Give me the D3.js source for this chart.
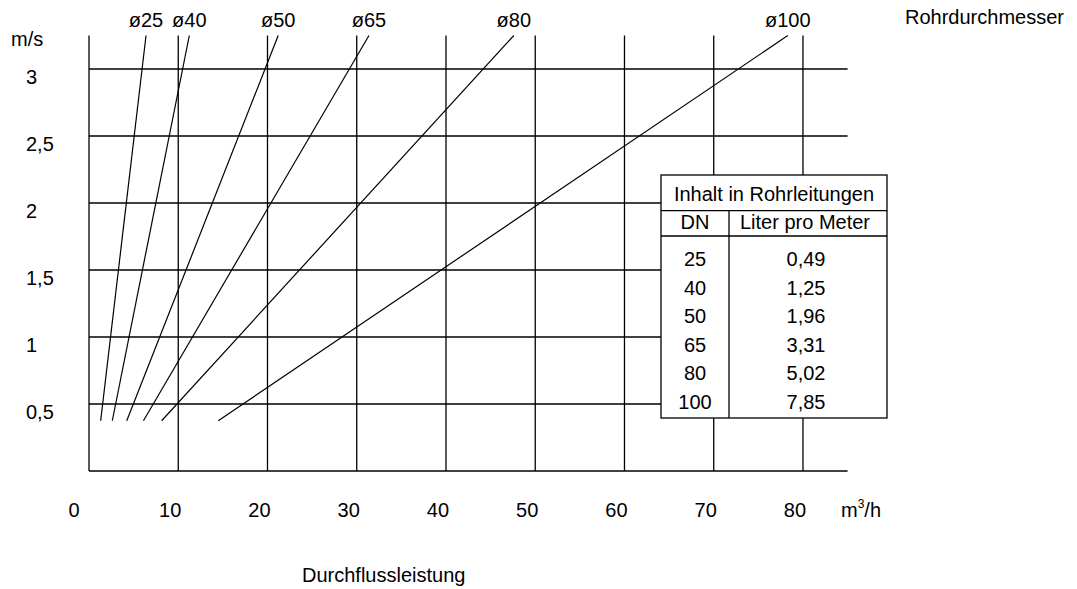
<!DOCTYPE html>
<html>
<head>
<meta charset="utf-8">
<script src="https://cdn.jsdelivr.net/npm/d3@7/dist/d3.min.js"></script>
<style>
  html, body { margin: 0; padding: 0; background: #fff; }
  svg { display: block; }
  text { font-family: "Liberation Sans", Arial, sans-serif; font-size: 20px; fill: #000; }
</style>
</head>
<body>
<svg id="chart" width="1077" height="589"></svg>
<script>
// ---- data ----
const xTicks = [0, 10, 20, 30, 40, 50, 60, 70, 80];
const yTicks = [0.5, 1, 1.5, 2, 2.5, 3];
const yTickLabels = ["0,5", "1", "1,5", "2", "2,5", "3"];
const pipeLabels = ["ø25", "ø40", "ø50", "ø65", "ø80", "ø100"];
const velocityLow = 0.375;   // m/s at lower end of each line
const velocityHigh = 3.25;   // m/s at upper end of each line
const flowLow = [1.31, 2.61, 4.23, 6.1, 8.14, 14.48];    // m³/h at velocityLow
const flowHigh = [6.39, 11.24, 21.2, 31.37, 47.6, 78.3]; // m³/h at velocityHigh
const tableTitle = "Inhalt in Rohrleitungen";
const tableHeaders = ["DN", "Liter pro Meter"];
const tableDN = ["25", "40", "50", "65", "80", "100"];
const tableLiter = ["0,49", "1,25", "1,96", "3,31", "5,02", "7,85"];

// ---- scales ----
const svg = d3.select("#chart");
const x = d3.scaleLinear().domain([0, 85]).range([89, 847.6]);
const y = d3.scaleLinear().domain([0, 3.25]).range([471, 35.5]);

const stroke = "#000";

// grid: vertical lines (incl. left border)
svg.append("g").selectAll("line").data(xTicks).join("line")
  .attr("x1", d => x(d)).attr("x2", d => x(d))
  .attr("y1", y(0)).attr("y2", y(3.25))
  .attr("stroke", stroke).attr("stroke-width", 1.3);

// grid: horizontal lines (incl. bottom border)
svg.append("g").selectAll("line").data([0].concat(yTicks)).join("line")
  .attr("x1", x(0)).attr("x2", x(85))
  .attr("y1", d => y(d)).attr("y2", d => y(d))
  .attr("stroke", stroke).attr("stroke-width", 1.3);

// x tick labels
svg.append("g").selectAll("text").data(xTicks).join("text")
  .attr("x", d => x(d) - (d === 0 ? 15 : 8))
  .attr("y", y(0) + 46)
  .attr("text-anchor", "middle")
  .text(d => d);

// y tick labels
svg.append("g").selectAll("text").data(yTicks).join("text")
  .attr("x", 26)
  .attr("y", d => y(d) + 15)
  .attr("text-anchor", "start")
  .text((d, i) => yTickLabels[i]);

// unit labels
svg.append("text").attr("x", 11).attr("y", 46).text("m/s");
const unitX = svg.append("text").attr("x", 841).attr("y", y(0) + 46);
unitX.append("tspan").text("m");
unitX.append("tspan").attr("dy", -9).attr("font-size", 12).text("3");
unitX.append("tspan").attr("dy", 9).text("/h");

svg.append("text").attr("x", 905).attr("y", 24).text("Rohrdurchmesser");
svg.append("text").attr("x", 302).attr("y", 582).text("Durchflussleistung");

// pipe lines
const lineData = pipeLabels.map((p, i) => ({
  label: p,
  pts: [[flowLow[i], velocityLow], [flowHigh[i], velocityHigh]]
}));
const lineGen = d3.line().x(d => x(d[0])).y(d => y(d[1]));
svg.append("g").selectAll("path").data(lineData).join("path")
  .attr("d", d => lineGen(d.pts))
  .attr("fill", "none").attr("stroke", stroke).attr("stroke-width", 1.2);

svg.append("g").selectAll("text").data(lineData).join("text")
  .attr("x", d => x(d.pts[1][0]))
  .attr("y", 27)
  .attr("text-anchor", "middle")
  .text(d => d.label);

// table
const tb = { x0: 661, x1: 887, xc: 729, y0: 175, y1: 418, yTitle: 210.7, yHead: 236 };
const tg = svg.append("g");
tg.append("rect").attr("x", tb.x0).attr("y", tb.y0)
  .attr("width", tb.x1 - tb.x0).attr("height", tb.y1 - tb.y0)
  .attr("fill", "#fff").attr("stroke", stroke).attr("stroke-width", 1.3);
tg.append("line").attr("x1", tb.x0).attr("x2", tb.x1).attr("y1", tb.yTitle).attr("y2", tb.yTitle)
  .attr("stroke", stroke).attr("stroke-width", 1.3);
tg.append("line").attr("x1", tb.x0).attr("x2", tb.x1).attr("y1", tb.yHead).attr("y2", tb.yHead)
  .attr("stroke", stroke).attr("stroke-width", 1.3);
tg.append("line").attr("x1", tb.xc).attr("x2", tb.xc).attr("y1", tb.yTitle).attr("y2", tb.y1)
  .attr("stroke", stroke).attr("stroke-width", 1.3);
tg.append("text").attr("x", (tb.x0 + tb.x1) / 2).attr("y", 201)
  .attr("text-anchor", "middle").text(tableTitle);
tg.append("text").attr("x", (tb.x0 + tb.xc) / 2).attr("y", 228.5)
  .attr("text-anchor", "middle").text(tableHeaders[0]);
tg.append("text").attr("x", (tb.xc + tb.x1) / 2 - 3).attr("y", 228.5)
  .attr("text-anchor", "middle").text(tableHeaders[1]);
tg.selectAll("text.dn").data(tableDN).join("text").attr("class", "dn")
  .attr("x", (tb.x0 + tb.xc) / 2).attr("y", (d, i) => 266 + i * 28.5)
  .attr("text-anchor", "middle").text(d => d);
tg.selectAll("text.lt").data(tableLiter).join("text").attr("class", "lt")
  .attr("x", (tb.xc + tb.x1) / 2 - 2).attr("y", (d, i) => 266 + i * 28.5)
  .attr("text-anchor", "middle").text(d => d);
</script>
</body>
</html>
